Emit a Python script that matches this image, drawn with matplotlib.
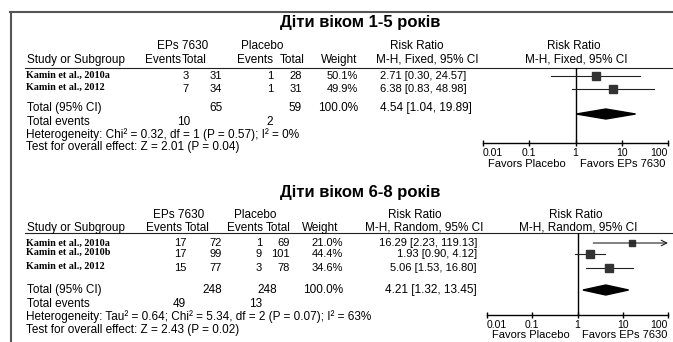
import matplotlib
matplotlib.use("Agg")
import matplotlib.pyplot as plt
from matplotlib.ticker import FixedLocator, FixedFormatter, NullLocator

W, H = 673, 342

# --- Діти віком 1-5 років (M-H, Fixed)
studies_1 = ["Kamin et al., 2010a", "Kamin et al., 2012"]
events_eps_1 = [3, 7]
total_eps_1 = [31, 34]
events_pl_1 = [1, 1]
total_pl_1 = [28, 31]
weight_1 = [50.1, 49.9]
rr_1 = [2.71, 6.38]
rr_lo_1 = [0.30, 0.83]
rr_hi_1 = [24.57, 48.98]
pooled_1 = [4.54, 1.04, 19.89]
sum_total_1 = [65, 59]
sum_events_1 = [10, 2]
het_1 = "Heterogeneity: Chi² = 0.32, df = 1 (P = 0.57); I² = 0%"
test_1 = "Test for overall effect: Z = 2.01 (P = 0.04)"

# --- Діти віком 6-8 років (M-H, Random)
studies_2 = ["Kamin et al., 2010a", "Kamin et al., 2010b", "Kamin et al., 2012"]
events_eps_2 = [17, 17, 15]
total_eps_2 = [72, 99, 77]
events_pl_2 = [1, 9, 3]
total_pl_2 = [69, 101, 78]
weight_2 = [21.0, 44.4, 34.6]
rr_2 = [16.29, 1.93, 5.06]
rr_lo_2 = [2.23, 0.90, 1.53]
rr_hi_2 = [119.13, 4.12, 16.80]
pooled_2 = [4.21, 1.32, 13.45]
sum_total_2 = [248, 248]
sum_events_2 = [49, 13]
het_2 = "Heterogeneity: Tau² = 0.64; Chi² = 5.34, df = 2 (P = 0.07); I² = 63%"
test_2 = "Test for overall effect: Z = 2.43 (P = 0.02)"

axis_ticks = [0.01, 0.1, 1, 10, 100]
axis_labels = ["0.01", "0.1", "1", "10", "100"]

SANS = "Liberation Sans"
SERIF = "Liberation Serif"
FS = 8.5
plt.rcParams["font.family"] = SANS

# розмітка у пікселях
lay_1 = dict(title="Діти віком 1-5 років", method="M-H, Fixed, 95% CI",
             title_y=23, grp_y=46, head_y=60, line_y=68,
             names_y=[75, 87], rows_y=[76, 89],
             total_y=108, diamond_y=114, events_y=122, het_y=135, test_y=147,
             axis_y=143, fav_y=164, fx=(483, 668), fav_x=(527, 623),
             grp_x=(183, 262, 417, 574), head_x=(163, 194, 255, 292, 339, 427, 576),
             num_x=(189, 222, 273, 302, 358), rr_x=380, rr_ha="left",
             sum_x=(223, 302, 358), sev_x=(190, 273))
lay_2 = dict(title="Діти віком 6-8 років", method="M-H, Random, 95% CI",
             title_y=193, grp_y=215, head_y=228, line_y=233,
             names_y=[243, 252, 266], rows_y=[243, 254, 268],
             total_y=290, diamond_y=290, events_y=304, het_y=317, test_y=330,
             axis_y=315, fav_y=335, fx=(487, 668), fav_x=(531, 625),
             grp_x=(179, 255, 415, 576), head_x=(164, 197, 245, 278, 320, 424, 578),
             num_x=(186, 222, 262, 290, 343), rr_x=477, rr_ha="right",
             sum_x=(222, 277, 343), sev_x=(186, 262))


def txt(ax, x, y, s, ha="left", size=FS, **kw):
    ax.text(x, y, s, ha=ha, va="center", fontsize=size, **kw)


def table(ax, lay, studies, ev_e, tot_e, ev_p, tot_p, weight, rr, lo, hi,
          pooled, sum_total, sum_events, het, test):
    txt(ax, 360, lay["title_y"], lay["title"], ha="center", size=12, weight="bold")
    gx = lay["grp_x"]
    for x, s in zip(gx, ["EPs 7630", "Placebo", "Risk Ratio", "Risk Ratio"]):
        txt(ax, x, lay["grp_y"], s, ha="center")
    txt(ax, 27, lay["head_y"], "Study or Subgroup")
    hx = lay["head_x"]
    for x, s in zip(hx, ["Events", "Total", "Events", "Total", "Weight",
                         lay["method"], lay["method"]]):
        txt(ax, x, lay["head_y"], s, ha="center")
    ax.plot([25, W], [lay["line_y"]] * 2, color="#222", lw=0.8)

    nx = lay["num_x"]
    for i, name in enumerate(studies):
        y = lay["rows_y"][i]
        txt(ax, 26, lay["names_y"][i], name, family=SERIF, weight="bold", size=7.3)
        vals = [ev_e[i], tot_e[i], ev_p[i], tot_p[i], f"{weight[i]:.1f}%"]
        for x, v in zip(nx, vals):
            txt(ax, x, y, str(v), ha="right", size=8)
        txt(ax, lay["rr_x"], y, f"{rr[i]:.2f} [{lo[i]:.2f}, {hi[i]:.2f}]",
            ha=lay["rr_ha"], size=8)

    y = lay["total_y"]
    txt(ax, 27, y, "Total (95% CI)")
    sx = lay["sum_x"]
    txt(ax, sx[0], y, str(sum_total[0]), ha="right")
    txt(ax, sx[1], y, str(sum_total[1]), ha="right")
    txt(ax, sx[2], y, "100.0%", ha="right")
    txt(ax, lay["rr_x"], y, f"{pooled[0]:.2f} [{pooled[1]:.2f}, {pooled[2]:.2f}]",
        ha=lay["rr_ha"])

    txt(ax, 27, lay["events_y"], "Total events")
    txt(ax, lay["sev_x"][0], lay["events_y"], str(sum_events[0]), ha="right")
    txt(ax, lay["sev_x"][1], lay["events_y"], str(sum_events[1]), ha="right")
    txt(ax, 26, lay["het_y"], het)
    txt(ax, 26, lay["test_y"], test)

    txt(ax, lay["fav_x"][0], lay["fav_y"], "Favors Placebo", ha="center", size=8)
    txt(ax, lay["fav_x"][1], lay["fav_y"], "Favors EPs 7630", ha="center", size=8)


def forest(fig, lay, rr, lo, hi, weight, pooled):
    x0, x1 = lay["fx"]
    ytop, ybot = lay["line_y"], lay["axis_y"]
    fax = fig.add_axes([x0 / W, 1 - ybot / H, (x1 - x0) / W, (ybot - ytop) / H])
    fax.set_xscale("log")
    fax.set_xlim(0.01, 100)
    fax.set_ylim(ybot, ytop)
    fax.patch.set_alpha(0)
    for s in ["top", "right", "left"]:
        fax.spines[s].set_visible(False)
    fax.spines["bottom"].set_linewidth(1)
    fax.xaxis.set_major_locator(FixedLocator(axis_ticks))
    fax.xaxis.set_major_formatter(FixedFormatter(axis_labels))
    fax.xaxis.set_minor_locator(NullLocator())
    fax.tick_params(axis="x", direction="inout", length=5, width=1, pad=1, labelsize=7.5)
    fax.set_yticks([])
    # крайні підписи осі - притиснуті до країв
    ticks = fax.xaxis.get_major_ticks()
    ticks[0].label1.set_horizontalalignment("left")
    ticks[-1].label1.set_horizontalalignment("right")
    fax.axvline(1, color="black", lw=1)

    for i in range(len(rr)):
        y = lay["rows_y"][i]
        if hi[i] > 100:
            fax.annotate("", xy=(100, y), xytext=(lo[i], y), annotation_clip=False,
                         arrowprops=dict(arrowstyle="->", lw=0.8, color="#222",
                                         shrinkA=0, shrinkB=0))
        else:
            fax.plot([lo[i], hi[i]], [y, y], color="#222", lw=0.8)
        ms = 1.2 * weight[i] ** 0.5 * 0.72
        fax.plot(rr[i], y, marker="s", ms=ms, color="#333", mec="#333", clip_on=False)

    est, l, h = pooled
    yc = lay["diamond_y"]
    fax.fill([l, est, h, est], [yc, yc - 5, yc, yc + 5], color="black", clip_on=False)


fig = plt.figure(figsize=(W / 100, H / 100), dpi=100)
ax = fig.add_axes([0, 0, 1, 1])
ax.set_xlim(0, W)
ax.set_ylim(H, 0)
ax.axis("off")

# рамка зліва і зверху
ax.plot([10, W], [12, 12], color="#555", lw=1.5)
ax.plot([11, 11], [12, H], color="#555", lw=1.5)

table(ax, lay_1, studies_1, events_eps_1, total_eps_1, events_pl_1, total_pl_1,
      weight_1, rr_1, rr_lo_1, rr_hi_1, pooled_1, sum_total_1, sum_events_1, het_1, test_1)
table(ax, lay_2, studies_2, events_eps_2, total_eps_2, events_pl_2, total_pl_2,
      weight_2, rr_2, rr_lo_2, rr_hi_2, pooled_2, sum_total_2, sum_events_2, het_2, test_2)

forest(fig, lay_1, rr_1, rr_lo_1, rr_hi_1, weight_1, pooled_1)
forest(fig, lay_2, rr_2, rr_lo_2, rr_hi_2, weight_2, pooled_2)

fig.savefig("out.png", dpi=100)
